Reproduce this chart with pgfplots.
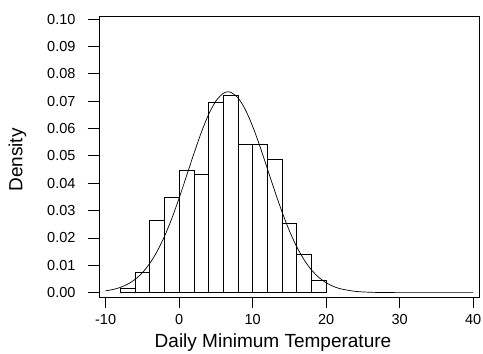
\documentclass[border=0pt]{standalone}
\usepackage{fontspec}
\setmainfont{Liberation Sans}
\usepackage{pgfplots}
\pgfplotsset{compat=1.18}
\begin{document}
\begin{tikzpicture}
\begin{axis}[
  scale only axis, width=380pt, height=281pt,
  xmin=-10.9, xmax=40.8, ymin=-0.0016, ymax=0.1011,
  xtick={-10,0,10,20,30,40},
  ytick={0,0.01,0.02,0.03,0.04,0.05,0.06,0.07,0.08,0.09,0.10},
  tick pos=left, tick align=outside,
  major tick length=11pt,
  axis line style={line width=0.7pt},
  tick style={line width=0.7pt, black},
  /pgf/number format/assume math mode=true,
  scaled y ticks=false,
  yticklabel style={/pgf/number format/fixed, /pgf/number format/fixed zerofill, /pgf/number format/precision=2, font=\fontsize{14.5}{16}\selectfont, xshift=-9pt},
  xticklabel style={font=\fontsize{14.5}{16}\selectfont, yshift=-3pt},
  label style={font=\fontsize{19}{21}\selectfont},
  xlabel={Daily Minimum Temperature}, ylabel={Density},
  xlabel style={xshift=-16pt, yshift=-2pt},
  ylabel style={yshift=14pt, xshift=-3.5pt},
]
\addplot[ybar interval, fill=white, draw=black, line width=0.6pt] coordinates {
(-8,0.0015) (-6,0.0073) (-4,0.0264) (-2,0.0349) (0,0.0446) (2,0.0433) (4,0.0696) (6,0.0722) (8,0.0542) (10,0.0542) (12,0.0486) (14,0.0252) (16,0.0141) (18,0.0044) (20,0)
};
\addplot[smooth, black, line width=0.7pt] coordinates {
(-10,0.00066) (-9,0.00114) (-8,0.00191) (-7,0.00308) (-6,0.00482) (-5,0.00729) (-4,0.01065) (-3,0.01503) (-2,0.02052) (-1,0.02706) (0,0.03453) (1,0.04256) (2,0.05070) (3,0.05841) (4,0.06504) (5,0.07001) (6,0.07284) (6.67,0.0734) (7,0.07326) (8,0.07123) (9,0.06694) (10,0.06081) (11,0.05341) (12,0.04534) (13,0.03721) (14,0.02951) (15,0.02263) (16,0.01677) (17,0.01202) (18,0.00832) (19,0.00557) (20,0.00361) (21,0.00226) (22,0.00137) (24,0.00045) (26,0.00013) (28,0.00003) (30,0.000005) (35,0) (40,0)
};
\end{axis}
\pgfresetboundingbox
\path[use as bounding box] ([xshift=-99pt,yshift=-57pt]current axis.south west) rectangle ([xshift=4pt,yshift=16pt]current axis.north east);
\end{tikzpicture}
\end{document}
